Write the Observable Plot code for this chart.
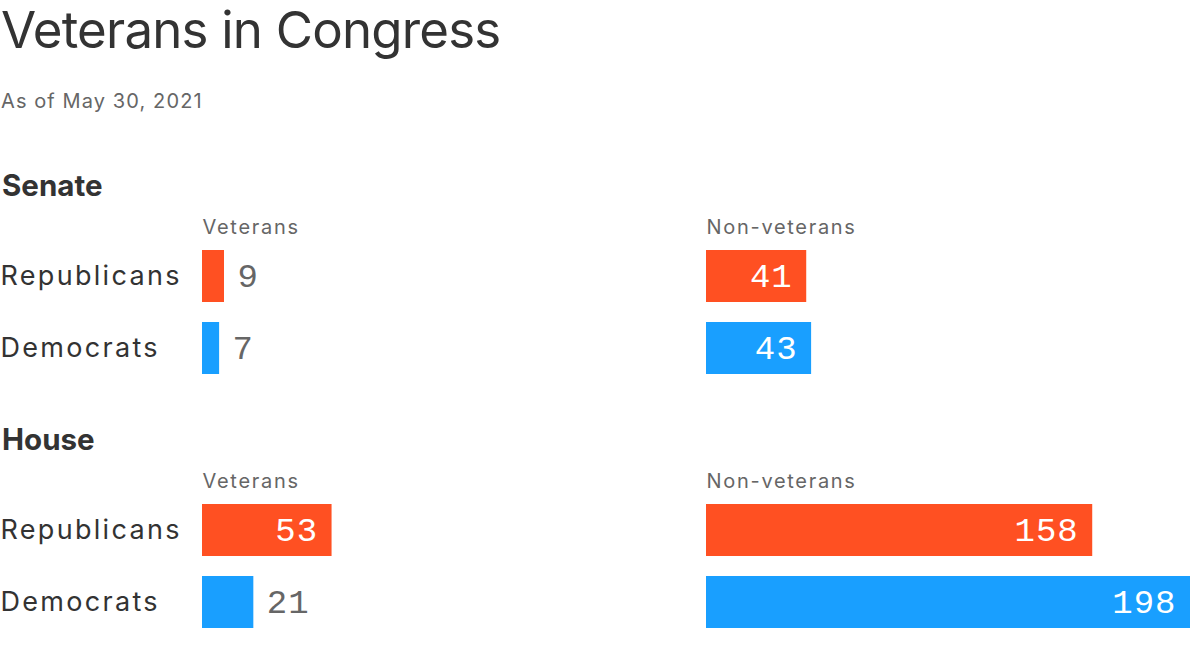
<!DOCTYPE html>
<html>
<head>
<meta charset="utf-8">
<script src="https://cdn.jsdelivr.net/npm/d3@7"></script>
<script src="https://cdn.jsdelivr.net/npm/@observablehq/plot@0.6"></script>
<style>
  html, body { margin: 0; padding: 0; background: #fff; }
  body { width: 1200px; height: 658px; position: relative; overflow: hidden; font-family: Inter, "Noto Sans", sans-serif; }
  .abs { position: absolute; left: 0; white-space: nowrap; }
  #title { top: 2px; left: 1px; font-size: 51px; line-height: 56px; color: #333; letter-spacing: -0.8px; }
  #subtitle { top: 88px; left: 1px; font-size: 20px; line-height: 26px; color: #666; letter-spacing: 1.1px; }
  .chamber { left: 2px; font-size: 29.5px; line-height: 34px; font-weight: 700; color: #333; }
  #senate-head { top: 168px; }
  #house-head { top: 422px; }
  #senate-plot { top: 200px; }
  #house-plot { top: 454px; }
  svg { overflow: visible; }
</style>
</head>
<body>
<div id="title" class="abs">Veterans in Congress</div>
<div id="subtitle" class="abs">As of May 30, 2021</div>
<div id="senate-head" class="abs chamber">Senate</div>
<div id="senate-plot" class="abs"></div>
<div id="house-head" class="abs chamber">House</div>
<div id="house-plot" class="abs"></div>
<script>
const chambers = ["Senate", "House"];
const parties = ["Republicans", "Democrats"];
const columns = ["Veterans", "Non-veterans"];
const senateVeterans = [9, 7];
const senateNonVeterans = [41, 43];
const houseVeterans = [53, 21];
const houseNonVeterans = [158, 198];
const partyColors = ["#ff5022", "#199fff"];
const xMax = 198;

function rows(vets, nonVets) {
  const out = [];
  parties.forEach((p, i) => {
    out.push({party: p, group: columns[0], value: vets[i]});
    out.push({party: p, group: columns[1], value: nonVets[i]});
  });
  return out;
}

function chart(data) {
  const inside = d => d.value >= 30;
  const mono = "'Liberation Mono', 'DejaVu Sans Mono', monospace";
  const svg = Plot.plot({
    width: 1200,
    height: 174,
    marginTop: 50,
    marginBottom: 0,
    marginLeft: 202,
    marginRight: 10,
    style: {fontFamily: "Inter, 'Noto Sans', sans-serif", background: "transparent", overflow: "visible"},
    fx: {domain: columns, paddingInner: 0.0397, paddingOuter: 0, axis: null, label: null},
    x: {domain: [0, xMax], axis: null},
    y: {domain: parties, paddingInner: 0.2778, paddingOuter: 0, label: null},
    color: {domain: parties, range: partyColors},
    marks: [
      Plot.barX(data, {fx: "group", y: "party", x: "value", fill: "party"}),
      Plot.text(data.filter(inside), {fx: "group", y: "party", x: "value", text: d => String(d.value),
        textAnchor: "end", dx: -14, dy: 0, fill: "#fff", fontSize: 34, fontFamily: mono}),
      Plot.text(data.filter(d => !inside(d)), {fx: "group", y: "party", x: "value", text: d => String(d.value),
        textAnchor: "start", dx: 13, dy: 0, fill: "#666", fontSize: 34, fontFamily: mono}),
      Plot.text(columns, {fx: d => d, text: d => d, frameAnchor: "top-left", lineAnchor: "middle", dy: -23,
        fill: "#666", fontSize: 20}),
      Plot.axisY({anchor: "left", tickSize: 0, textAnchor: "start", dx: -193, fontSize: 27, fill: "#333", label: null})
    ]
  });
  d3.select(svg).selectAll("text").each(function () {
    const t = this.textContent;
    if (columns.includes(t)) this.style.letterSpacing = "1.7px";
    else if (/^\d+$/.test(t)) this.style.letterSpacing = "1px";
    else if (parties.includes(t)) this.style.letterSpacing = "2.3px";
  });
  return svg;
}

document.getElementById("senate-plot").appendChild(chart(rows(senateVeterans, senateNonVeterans)));
document.getElementById("house-plot").appendChild(chart(rows(houseVeterans, houseNonVeterans)));
</script>
</body>
</html>
